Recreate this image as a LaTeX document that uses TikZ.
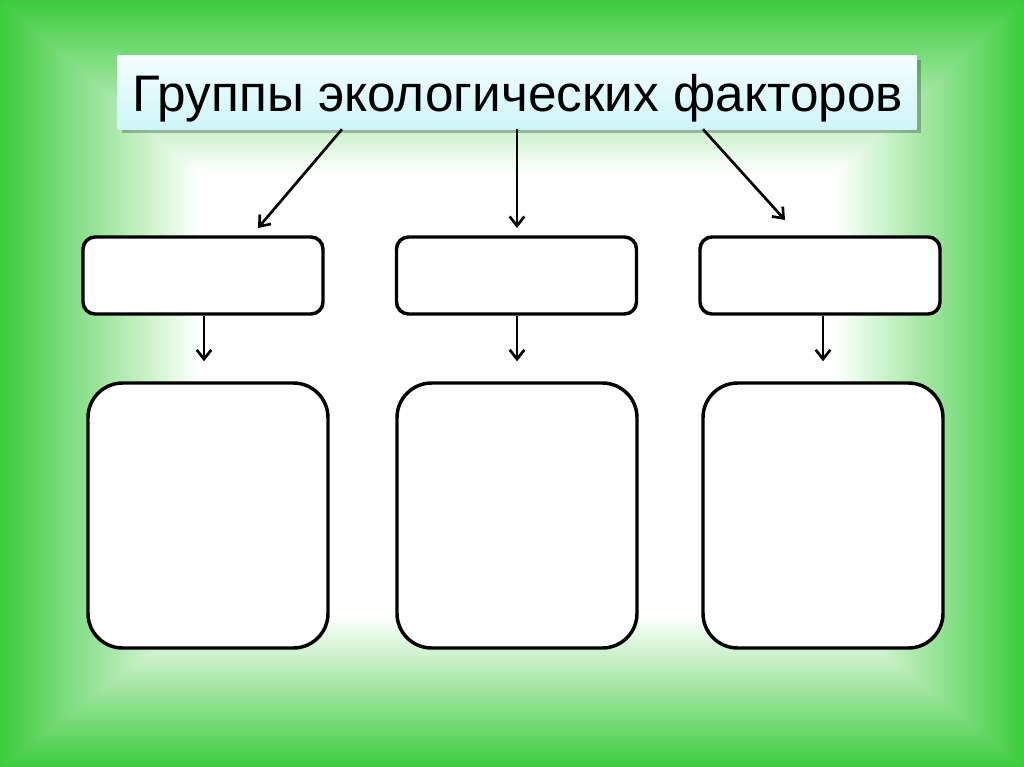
\documentclass[tikz,border=0pt]{standalone}
\usepackage{fontspec}
\setmainfont{Liberation Sans}
\usetikzlibrary{arrows.meta,calc}
\definecolor{bggreen}{HTML}{3CCB3C}
\definecolor{midgreen}{HTML}{8FE08F}
\definecolor{cyanlo}{HTML}{CDF5F7}
\definecolor{cyanhi}{HTML}{F4FEFE}
\begin{document}
\begin{tikzpicture}[x=0.75pt,y=-0.75pt,
  smallbox/.style={draw=black,line width=2.6pt,fill=white,rounded corners=9pt,minimum width=180pt,minimum height=57.75pt,inner sep=0pt},
  bigbox/.style={draw=black,line width=2.6pt,fill=white,rounded corners=26pt,minimum width=180pt,minimum height=198.75pt,inner sep=0pt},
  arr/.style={line width=2pt,-{Straight Barb[length=7pt,width=11pt,line width=2pt]}}]
\useasboundingbox (0,0) rectangle (1024,767);
% background
\fill[bggreen] (0,0) rectangle (1024,767);
\shade[left color=bggreen, middle color=midgreen, right color=white] (0,0) rectangle (200,767);
\shade[left color=white, middle color=midgreen, right color=bggreen] (835,0) rectangle (1024,767);
\fill[white] (199,0) rectangle (836,767);
\begin{scope}
\clip (0,0) -- (1024,0) -- (835,175) -- (200,175) -- cycle;
\shade[top color=bggreen, middle color=midgreen, bottom color=white] (0,0) rectangle (1024,175);
\end{scope}
\begin{scope}
\clip (0,767) -- (1024,767) -- (835,615) -- (200,615) -- cycle;
\shade[top color=white, middle color=midgreen, bottom color=bggreen] (0,615) rectangle (1024,767);
\end{scope}
% title
\fill[black,opacity=0.25] (122,60) rectangle (921,133);
\node[draw=none,top color=cyanhi,bottom color=cyanlo,minimum width=599.25pt,minimum height=54.75pt,inner sep=0pt] (t) at (517,92.5) {};
\node[anchor=base,inner sep=0pt] (tt) at (518,111)
  {\fontsize{38.5}{46}\selectfont Группы экологических факторов};
% small boxes
\node[smallbox] (s1) at (203,275.5) {};
\node[smallbox] (s2) at (516.5,275.5) {};
\node[smallbox] (s3) at (820,275.5) {};
% big boxes
\node[bigbox] (b1) at (208,515.5) {};
\node[bigbox] (b2) at (517,515.5) {};
\node[bigbox] (b3) at (823,515.5) {};
% arrow ends
\coordinate (e1) at (258,228);
\coordinate (e2) at (517,228);
\coordinate (e3) at (785,220);
\draw[arr] ([xshift=-131.25pt]t.south) -- (e1);
\draw[arr] (t.south) -- (e2);
\draw[arr] ([xshift=139.5pt]t.south) -- (e3);
\draw[arr] ([xshift=0.75pt]s1.south) -- ([xshift=0.75pt,yshift=15pt]s1.south |- b1.north);
\draw[arr] ([xshift=0.4pt]s2.south) -- ([xshift=0.4pt,yshift=15pt]s2.south |- b2.north);
\draw[arr] ([xshift=2.25pt]s3.south) -- ([xshift=2.25pt,yshift=15pt]s3.south |- b3.north);
\end{tikzpicture}
\end{document}
